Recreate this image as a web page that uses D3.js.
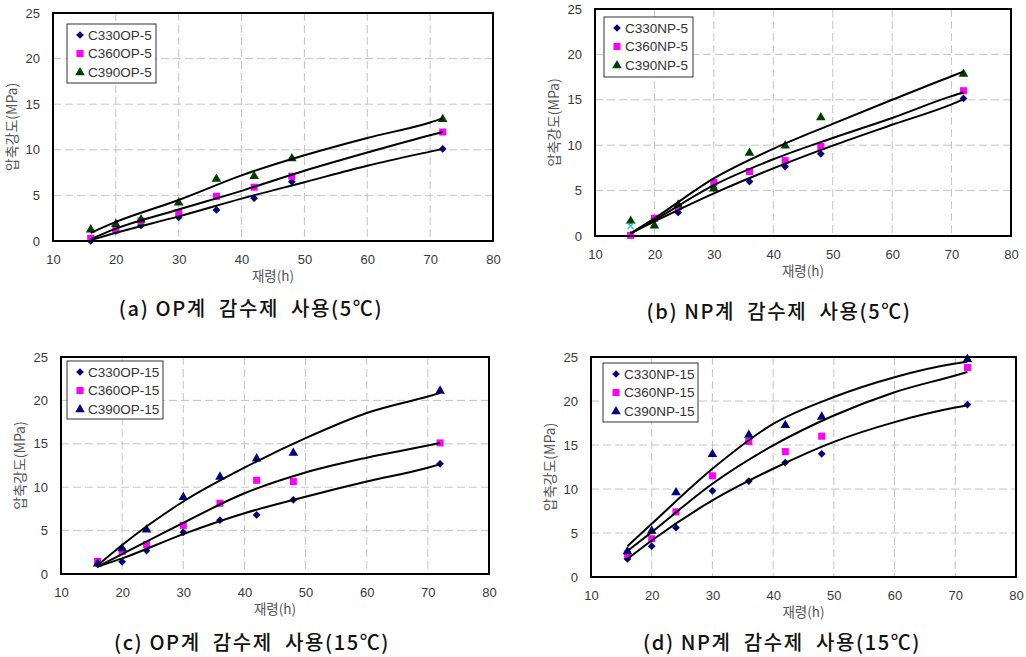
<!DOCTYPE html>
<html>
<head>
<meta charset="utf-8">
<script src="https://cdn.jsdelivr.net/npm/d3@7"></script>
<style>
  body { margin: 0; background: #fff; }
  svg { display: block; }
</style>
</head>
<body>
<svg id="chart" width="1026" height="657"></svg>
<script>
// 재령 (h)
const ages = [16, 20, 24, 30, 36, 42, 48, 72];
const fitAges = [16, 20, 30, 40, 50, 60, 70, 72];
const xTicks = [10, 20, 30, 40, 50, 60, 70, 80];
const yTicks = [0, 5, 10, 15, 20, 25];

// (a) OP 5℃
const c330op5 = [0, 1.1, 1.7, 2.6, 3.4, 4.7, 6.5, 10.1];
const c360op5 = [0.3, 1.2, 2.2, 3.1, 4.9, 5.9, 7.1, 11.95];
const c390op5 = [1.3, 1.9, 2.4, 4.25, 6.85, 7.15, 9.1, 13.4];
const fit330op5 = [0.1, 0.9, 2.7, 4.65, 6.45, 8.25, 9.8, 10.1];
const fit360op5 = [0.2, 1.35, 3.45, 5.5, 7.7, 9.7, 11.6, 11.95];
const fit390op5 = [0.9, 2.1, 4.5, 7.2, 9.4, 11.3, 13.0, 13.45];

// (b) NP 5℃
const c330np5 = [0.1, 1.95, 2.6, 5.3, 6.0, 7.65, 9.05, 15.15];
const c360np5 = [0.07, 1.95, 3.2, 5.9, 7.1, 8.3, 9.85, 16.0];
const c390np5 = [1.7, 1.2, 3.5, 5.25, 9.2, 10.0, 13.1, 17.9];
const fit330np5 = [0.3, 1.6, 4.7, 7.45, 9.95, 12.25, 14.5, 15.05];
const fit360np5 = [0.3, 1.75, 5.6, 8.45, 10.8, 13.0, 15.4, 15.8];
const fit390np5 = [0.3, 1.95, 6.35, 9.6, 12.35, 15.0, 17.6, 18.1];
const strayNp5 = [[16, 1.1]];

// (c) OP 15℃
const c330op15 = [1.1, 1.4, 2.7, 4.8, 6.2, 6.8, 8.55, 12.7];
const c360op15 = [1.45, 2.6, 3.4, 5.6, 8.15, 10.8, 10.65, 15.1];
const c390op15 = [1.25, 3.0, 5.15, 8.9, 11.25, 13.35, 14.0, 21.15];
const fit330op15 = [0.85, 1.8, 4.6, 7.0, 8.9, 10.65, 12.25, 12.65];
const fit360op15 = [0.85, 2.3, 5.9, 9.3, 11.7, 13.4, 14.8, 15.1];
const fit390op15 = [1.0, 3.35, 8.35, 12.25, 15.65, 18.55, 20.45, 20.85];

// (d) NP 15℃
const c330np15 = [2.05, 3.5, 5.6, 9.8, 10.9, 13.0, 14.0, 19.6];
const c360np15 = [2.6, 4.35, 7.4, 11.5, 15.4, 14.25, 16.0, 23.8];
const c390np15 = [2.95, 5.3, 9.65, 14.0, 16.2, 17.3, 18.25, 24.8];
const fit330np15 = [2.05, 4.15, 8.7, 12.3, 15.35, 17.6, 19.25, 19.5];
const fit360np15 = [2.95, 5.1, 10.6, 14.95, 18.35, 21.0, 22.9, 23.3];
const fit390np15 = [3.5, 6.05, 12.3, 17.4, 20.45, 22.7, 24.25, 24.45];

const namesA = ['C330OP-5', 'C360OP-5', 'C390OP-5'];
const namesB = ['C330NP-5', 'C360NP-5', 'C390NP-5'];
const namesC = ['C330OP-15', 'C360OP-15', 'C390OP-15'];
const namesD = ['C330NP-15', 'C360NP-15', 'C390NP-15'];
const captions = ['(a) OP계  감수제  사용(5℃)', '(b) NP계  감수제  사용(5℃)',
                  '(c) OP계  감수제  사용(15℃)', '(d) NP계  감수제  사용(15℃)'];
const xTitle = '재령(h)';
const yTitle = '압축강도(MPa)';

const navy = '#00007f', magenta = '#ff00ff', green = '#003f00';

// layout of each panel
const panels = [
  { box: [53, 493, 13, 241], leg: [67, 24, 89, 59], cap: [251, 316],
    series: [c330op5, c360op5, c390op5], fits: [fit330op5, fit360op5, fit390op5],
    names: namesA, caption: captions[0], tri: green },
  { box: [595, 1011, 9, 236], leg: [604, 17, 89, 60], cap: [779, 319],
    series: [c330np5, c360np5, c390np5], fits: [fit330np5, fit360np5, fit390np5],
    names: namesB, caption: captions[1], tri: green, stray: strayNp5 },
  { box: [61, 489, 357, 574], leg: [67, 361, 96, 58], cap: [252, 650],
    series: [c330op15, c360op15, c390op15], fits: [fit330op15, fit360op15, fit390op15],
    names: namesC, caption: captions[2], tri: navy },
  { box: [591, 1016, 357, 577], leg: [603, 363, 95, 59], cap: [782, 650],
    series: [c330np15, c360np15, c390np15], fits: [fit330np15, fit360np15, fit390np15],
    names: namesD, caption: captions[3], tri: navy }
];

const svg = d3.select('#chart');
const labelFont = '"Liberation Sans", Arial, sans-serif';
const krFont = '"Noto Sans CJK KR", "Noto Sans", sans-serif';

function marker(g, kind, color, x, y) {
  if (kind === 0) {
    g.append('path').attr('d', d3.symbol(d3.symbolSquare, 30)())
      .attr('transform', `translate(${x},${y}) rotate(45)`).attr('fill', color);
  } else if (kind === 1) {
    g.append('path').attr('d', d3.symbol(d3.symbolSquare, 50)())
      .attr('transform', `translate(${x},${y})`).attr('fill', color);
  } else {
    g.append('path').attr('d', d3.symbol(d3.symbolTriangle, 40)())
      .attr('transform', `translate(${x},${y + 0.5})`).attr('fill', color);
  }
}

panels.forEach(p => {
  const [l, r, t, b] = p.box;
  const x = d3.scaleLinear().domain([10, 80]).range([l, r]);
  const y = d3.scaleLinear().domain([0, 25]).range([b, t]);
  const g = svg.append('g');

  // grid
  g.selectAll('.vg').data(xTicks.slice(1, -1)).join('line')
    .attr('x1', d => x(d)).attr('x2', d => x(d)).attr('y1', t).attr('y2', b)
    .attr('stroke', '#c4c4c4').attr('stroke-dasharray', '8,4');
  g.selectAll('.hg').data(yTicks.slice(1, -1)).join('line')
    .attr('y1', d => y(d)).attr('y2', d => y(d)).attr('x1', l).attr('x2', r)
    .attr('stroke', '#c4c4c4').attr('stroke-dasharray', '8,4');

  // axes labels
  const yAxis = d3.axisLeft(y).tickValues(yTicks).tickSize(0).tickPadding(13);
  const xAxis = d3.axisBottom(x).tickValues(xTicks).tickSize(0).tickPadding(14);
  g.append('g').attr('transform', `translate(${l},0)`).call(yAxis)
    .call(a => a.select('.domain').remove())
    .selectAll('text').attr('font-family', labelFont).attr('font-size', 13).attr('fill', '#383838');
  g.append('g').attr('transform', `translate(0,${b})`).call(xAxis)
    .call(a => a.select('.domain').remove())
    .selectAll('text').attr('font-family', labelFont).attr('font-size', 13).attr('fill', '#383838');

  g.append('text').attr('x', (l + r) / 2).attr('y', b + 40).attr('text-anchor', 'middle')
    .attr('font-family', krFont).attr('font-size', 13.5).attr('fill', '#555').text(xTitle);
  g.append('text').attr('transform', `translate(${l - 36},${(t + b) / 2}) rotate(-90)`)
    .attr('text-anchor', 'middle').attr('font-family', krFont).attr('font-size', 14)
    .attr('fill', '#555').text(yTitle);

  // markers
  const colors = [navy, magenta, p.tri];
  p.series.forEach((vals, si) => {
    vals.forEach((v, i) => marker(g, si, colors[si], x(ages[i]), y(v)));
  });
  if (p.stray) {
    p.stray.forEach(d => {
      const cx = x(d[0]), cy = y(d[1]);
      g.append('path').attr('d', `M${cx - 3},${cy - 3}L${cx + 3},${cy + 3}M${cx - 3},${cy + 3}L${cx + 3},${cy - 3}`)
        .attr('stroke', '#33cccc').attr('stroke-width', 1.5);
    });
  }

  // fitted curves
  const line = d3.line().x((d, i) => x(fitAges[i])).y(d => y(d)).curve(d3.curveMonotoneX);
  p.fits.forEach(f => {
    g.append('path').attr('d', line(f)).attr('fill', 'none')
      .attr('stroke', '#000').attr('stroke-width', 2);
  });

  // frame
  g.append('rect').attr('x', l).attr('y', t).attr('width', r - l).attr('height', b - t)
    .attr('fill', 'none').attr('stroke', '#000').attr('stroke-width', 2);

  // legend
  const [lx, ly, lw, lh] = p.leg;
  const lg = g.append('g');
  lg.append('rect').attr('x', lx).attr('y', ly).attr('width', lw).attr('height', lh)
    .attr('fill', '#fff').attr('stroke', '#333').attr('stroke-width', 1);
  p.names.forEach((n, i) => {
    const ry = ly + 11 + i * 18.5;
    marker(lg, i, colors[i], lx + 13, ry);
    lg.append('text').attr('x', lx + 21).attr('y', ry + 4.5)
      .attr('font-family', labelFont).attr('font-size', 13.5).attr('fill', '#333').text(n);
  });

  // caption
  g.append('text').attr('x', p.cap[0]).attr('y', p.cap[1]).attr('text-anchor', 'middle')
    .attr('font-family', krFont).attr('font-size', 20).attr('font-weight', 500)
    .attr('letter-spacing', 1.6)
    .attr('xml:space', 'preserve').style('white-space', 'pre')
    .attr('fill', '#111').text(p.caption);
});
</script>
</body>
</html>
